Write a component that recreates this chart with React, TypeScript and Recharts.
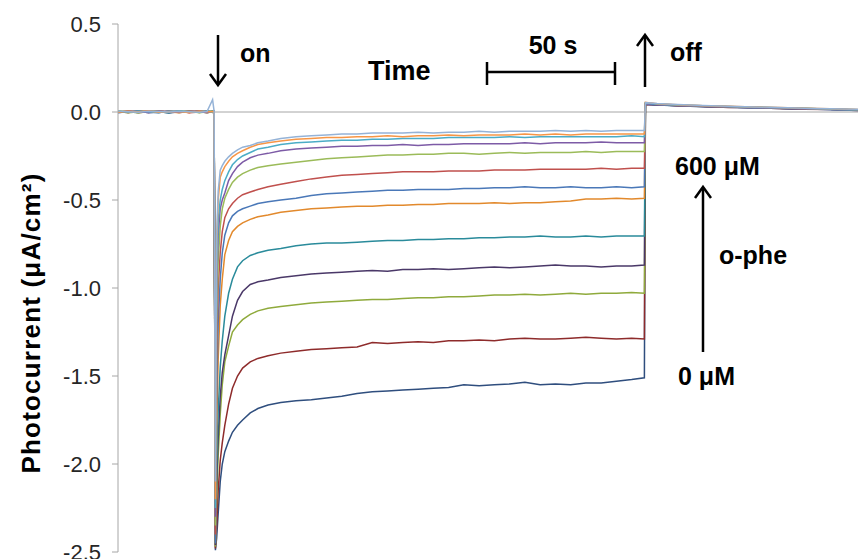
import { LineChart, Line, XAxis, YAxis, ReferenceLine } from 'recharts'

// time in seconds (light on at ~38 s, off at ~207 s)
const time = [
  0, 4, 8, 12, 16, 20, 24, 28, 32, 35, 37.2, 37.8,
  38.3, 38.8, 39.4, 40.2, 41, 42, 43.5, 45, 47, 49, 52, 55, 59, 64, 70,
  76, 82, 88, 94, 100, 106, 112, 118, 124, 130, 136, 142, 148, 154, 160, 166, 172, 178, 184, 190, 196, 202, 207,
  207.4, 212, 220, 230, 240, 250, 260, 270, 280, 291,
]

// photocurrent traces, 0 µM (bottom) to 600 µM (top)
const trace01 = [
  0.004, -0.003, 0.006, -0.002, 0.003, -0.005, 0.002, 0.005, -0.003, 0.004, 0.0, 0.002,
  -2.49, -2.42, -2.28, -2.1, -2.0, -1.93, -1.87, -1.82, -1.78, -1.75, -1.71, -1.685, -1.665, -1.65, -1.64,
  -1.635, -1.625, -1.615, -1.6, -1.59, -1.585, -1.58, -1.575, -1.57, -1.565, -1.55, -1.555, -1.55, -1.545, -1.535, -1.55, -1.545, -1.55, -1.54, -1.54, -1.53, -1.52, -1.51,
  0.045, 0.04, 0.035, 0.03, 0.028, 0.024, 0.02, 0.018, 0.015, 0.01,
]
const trace02 = [
  -0.002, 0.005, -0.004, 0.003, 0.006, -0.002, 0.004, -0.003, 0.005, 0.0, 0.003, -0.002,
  -2.48, -2.35, -2.15, -1.98, -1.88, -1.78, -1.66, -1.57, -1.5, -1.455, -1.42, -1.4, -1.385, -1.37, -1.36,
  -1.35, -1.345, -1.34, -1.335, -1.31, -1.315, -1.31, -1.305, -1.31, -1.3, -1.3, -1.295, -1.3, -1.29, -1.285, -1.29, -1.29, -1.285, -1.28, -1.285, -1.29, -1.285, -1.29,
  0.04, 0.042, 0.036, 0.032, 0.026, 0.025, 0.02, 0.016, 0.014, 0.008,
]
const trace03 = [
  0.003, -0.004, 0.002, 0.005, -0.003, 0.004, -0.002, 0.003, 0.001, -0.004, 0.002, 0.0,
  -2.47, -2.2, -1.95, -1.72, -1.55, -1.42, -1.33, -1.25, -1.21, -1.18, -1.15, -1.13, -1.115, -1.105, -1.095,
  -1.085, -1.08, -1.075, -1.07, -1.065, -1.065, -1.06, -1.055, -1.055, -1.05, -1.05, -1.045, -1.04, -1.04, -1.035, -1.04, -1.035, -1.03, -1.035, -1.03, -1.03, -1.025, -1.03,
  0.05, 0.044, 0.038, 0.034, 0.03, 0.026, 0.022, 0.02, 0.016, 0.012,
]
const trace04 = [
  -0.003, 0.002, 0.005, -0.004, 0.001, 0.004, -0.003, 0.002, 0.006, -0.002, 0.004, 0.001,
  -2.46, -2.1, -1.85, -1.62, -1.48, -1.38, -1.27, -1.16, -1.07, -1.02, -0.98, -0.965, -0.955, -0.94, -0.93,
  -0.92, -0.915, -0.91, -0.905, -0.9, -0.905, -0.895, -0.895, -0.89, -0.895, -0.89, -0.885, -0.88, -0.885, -0.88, -0.875, -0.87, -0.875, -0.875, -0.88, -0.875, -0.875, -0.87,
  0.046, 0.04, 0.037, 0.031, 0.028, 0.024, 0.021, 0.017, 0.015, 0.011,
]
const trace05 = [
  0.005, 0.0, -0.003, 0.004, 0.002, -0.004, 0.005, 0.0, -0.002, 0.003, 0.005, 0.0,
  -2.45, -2.0, -1.7, -1.45, -1.3, -1.16, -1.03, -0.95, -0.88, -0.845, -0.815, -0.8, -0.785, -0.775, -0.76,
  -0.75, -0.745, -0.745, -0.74, -0.735, -0.73, -0.73, -0.725, -0.725, -0.72, -0.72, -0.715, -0.715, -0.71, -0.71, -0.705, -0.71, -0.71, -0.705, -0.71, -0.705, -0.705, -0.705,
  0.048, 0.043, 0.039, 0.033, 0.029, 0.027, 0.022, 0.019, 0.016, 0.012,
]
const trace06 = [
  0.002, 0.006, -0.002, 0.0, 0.004, 0.002, -0.004, 0.006, 0.002, -0.003, 0.001, 0.003,
  -2.45, -1.8, -1.4, -1.1, -0.95, -0.81, -0.73, -0.68, -0.65, -0.63, -0.61, -0.595, -0.585, -0.57, -0.56,
  -0.55, -0.545, -0.54, -0.535, -0.535, -0.53, -0.53, -0.525, -0.525, -0.52, -0.52, -0.52, -0.515, -0.52, -0.515, -0.515, -0.51, -0.505, -0.495, -0.495, -0.49, -0.495, -0.49,
  0.052, 0.046, 0.04, 0.035, 0.031, 0.027, 0.024, 0.02, 0.017, 0.013,
]
const trace07 = [
  -0.004, 0.003, 0.004, -0.001, -0.004, 0.005, 0.001, -0.002, 0.004, 0.006, -0.001, 0.002,
  -2.45, -1.6, -1.2, -0.95, -0.8, -0.7, -0.63, -0.59, -0.565, -0.55, -0.535, -0.52, -0.51, -0.5, -0.49,
  -0.475, -0.465, -0.46, -0.455, -0.45, -0.445, -0.445, -0.44, -0.44, -0.44, -0.435, -0.435, -0.43, -0.43, -0.425, -0.43, -0.43, -0.425, -0.43, -0.43, -0.425, -0.43, -0.425,
  0.044, 0.041, 0.036, 0.032, 0.027, 0.023, 0.021, 0.018, 0.013, 0.009,
]
const trace08 = [
  0.001, -0.003, 0.003, 0.006, -0.002, 0.001, 0.005, -0.004, 0.0, 0.004, -0.002, 0.004,
  -2.4, -1.4, -1.0, -0.8, -0.68, -0.6, -0.55, -0.52, -0.49, -0.47, -0.455, -0.44, -0.425, -0.41, -0.395,
  -0.38, -0.37, -0.36, -0.355, -0.35, -0.345, -0.34, -0.34, -0.34, -0.335, -0.335, -0.335, -0.33, -0.33, -0.33, -0.325, -0.325, -0.325, -0.325, -0.32, -0.325, -0.32, -0.32,
  0.047, 0.043, 0.037, 0.033, 0.029, 0.025, 0.023, 0.019, 0.016, 0.012,
]
const trace09 = [
  0.004, 0.001, -0.004, 0.002, 0.005, -0.001, 0.003, 0.004, -0.004, 0.002, 0.004, -0.001,
  -2.35, -1.2, -0.85, -0.65, -0.55, -0.49, -0.44, -0.4, -0.37, -0.35, -0.33, -0.315, -0.305, -0.295, -0.285,
  -0.275, -0.265, -0.26, -0.255, -0.25, -0.245, -0.245, -0.24, -0.24, -0.235, -0.235, -0.24, -0.235, -0.23, -0.235, -0.23, -0.23, -0.23, -0.225, -0.23, -0.225, -0.225, -0.225,
  0.05, 0.045, 0.04, 0.034, 0.03, 0.028, 0.023, 0.02, 0.017, 0.013,
]
const trace10 = [
  -0.001, 0.004, 0.001, -0.003, 0.005, 0.002, -0.001, 0.004, 0.003, -0.004, 0.002, 0.005,
  -2.3, -1.0, -0.7, -0.55, -0.5, -0.46, -0.39, -0.35, -0.31, -0.285, -0.26, -0.245, -0.235, -0.22, -0.21,
  -0.205, -0.2, -0.195, -0.195, -0.19, -0.19, -0.185, -0.19, -0.185, -0.185, -0.18, -0.18, -0.18, -0.18, -0.175, -0.18, -0.175, -0.175, -0.175, -0.17, -0.175, -0.175, -0.175,
  0.045, 0.042, 0.038, 0.033, 0.03, 0.026, 0.022, 0.019, 0.015, 0.011,
]
const trace11 = [
  0.003, -0.002, 0.005, 0.002, -0.003, 0.003, 0.006, -0.001, 0.002, 0.005, -0.003, 0.002,
  -2.25, -0.9, -0.62, -0.5, -0.44, -0.39, -0.34, -0.3, -0.27, -0.25, -0.23, -0.21, -0.2, -0.185, -0.175,
  -0.17, -0.165, -0.16, -0.16, -0.155, -0.155, -0.15, -0.15, -0.15, -0.145, -0.145, -0.145, -0.145, -0.14, -0.145, -0.14, -0.14, -0.14, -0.14, -0.14, -0.14, -0.135, -0.14,
  0.049, 0.044, 0.039, 0.035, 0.031, 0.026, 0.024, 0.021, 0.016, 0.012,
]
const trace12 = [
  -0.002, 0.004, 0.002, 0.005, -0.002, 0.003, 0.001, -0.003, 0.005, 0.002, 0.003, 0.0,
  -2.2, -0.75, -0.5, -0.37, -0.34, -0.31, -0.28, -0.255, -0.235, -0.22, -0.2, -0.185, -0.175, -0.165, -0.155,
  -0.15, -0.145, -0.145, -0.14, -0.14, -0.135, -0.14, -0.135, -0.135, -0.13, -0.135, -0.13, -0.13, -0.13, -0.125, -0.13, -0.125, -0.13, -0.125, -0.125, -0.125, -0.125, -0.125,
  0.055, 0.047, 0.041, 0.036, 0.032, 0.028, 0.025, 0.021, 0.018, 0.014,
]
const trace13 = [
  0.005, 0.002, -0.002, 0.004, 0.003, 0.0, 0.004, 0.002, -0.001, 0.003, 0.07, 0.004,
  -2.1, -0.7, -0.45, -0.33, -0.305, -0.28, -0.255, -0.235, -0.215, -0.2, -0.19, -0.175, -0.165, -0.15, -0.14,
  -0.135, -0.13, -0.125, -0.125, -0.12, -0.12, -0.12, -0.115, -0.12, -0.115, -0.115, -0.11, -0.115, -0.11, -0.11, -0.11, -0.105, -0.11, -0.105, -0.11, -0.105, -0.105, -0.105,
  0.053, 0.048, 0.042, 0.037, 0.033, 0.029, 0.025, 0.022, 0.019, 0.015,
]

const traces = [trace01, trace02, trace03, trace04, trace05, trace06, trace07, trace08, trace09, trace10, trace11, trace12, trace13]
const colors = [
  '#2F4E7E', '#8E2B2B', '#8FAA3C', '#4A3868', '#2A8B9B', '#E2892C', '#4A78B8',
  '#C0504D', '#9BBB59', '#7D5BA6', '#4BACC6', '#F79646', '#95B3D7',
]
const yTicks = [-2.5, -2, -1.5, -1, -0.5, 0, 0.5]

const data = time.map((t, i) => {
  const row: Record<string, number> = { t }
  traces.forEach((tr, k) => { row['s' + k] = tr[i] })
  return row
})

const font = '"Liberation Sans", Arial, sans-serif'

const App = () => {
  return (
    <div style={{ position: 'absolute', left: 0, top: 0, width: 858, height: 559, background: '#fff', fontFamily: font }}>
      <LineChart width={858} height={559} data={data} margin={{ top: 24, right: 0, bottom: 7, left: 0 }}>
        <XAxis dataKey='t' type='number' domain={[0, 291]} hide allowDataOverflow />
        <YAxis
          width={118}
          domain={[-2.5, 0.5]}
          ticks={yTicks}
          interval={0}
          tickFormatter={(v: number) => v.toFixed(1)}
          stroke='#A6A6A6'
          tickSize={6}
          tickMargin={11}
          tick={{ fill: '#262626', fontSize: 22, fontFamily: font }}
          allowDataOverflow
        />
        <ReferenceLine y={0} stroke='#A6A6A6' strokeWidth={1} />
        {traces.map((_, k) => (
          <Line
            key={k}
            type='linear'
            dataKey={'s' + k}
            stroke={colors[k]}
            strokeWidth={1.5}
            dot={false}
            isAnimationActive={false}
          />
        ))}
      </LineChart>
      <svg width={858} height={559} style={{ position: 'absolute', left: 0, top: 0, pointerEvents: 'none' }}>
        <g fontFamily={font} fontWeight='bold' fontSize={25} fill='#000'>
          <text x={40} y={323} textAnchor='middle' fontSize={26} letterSpacing={1.2} transform='rotate(-90, 40, 323)'>Photocurrent (μA/cm²)</text>
          <text x={240} y={62}>on</text>
          <text x={368} y={80} fontSize={27}>Time</text>
          <text x={553} y={54} textAnchor='middle'>50 s</text>
          <text x={670} y={61}>off</text>
          <text x={675} y={175}>600 μM</text>
          <text x={719} y={264}>o-phe</text>
          <text x={678} y={385}>0 μM</text>
        </g>
        <g stroke='#000' strokeWidth={2.5} fill='none'>
          <line x1={218} y1={35} x2={218} y2={84} />
          <polyline points='210,74 218,85 226,74' />
          <line x1={487} y1={72} x2={615} y2={72} />
          <line x1={487} y1={62} x2={487} y2={85} />
          <line x1={615} y1={62} x2={615} y2={85} />
          <line x1={645} y1={36} x2={645} y2={87} />
          <polyline points='637,46 645,35 653,46' />
          <line x1={703} y1={188} x2={703} y2={352} />
          <polyline points='695,198 703,187 711,198' />
        </g>
      </svg>
    </div>
  )
}

export default App
